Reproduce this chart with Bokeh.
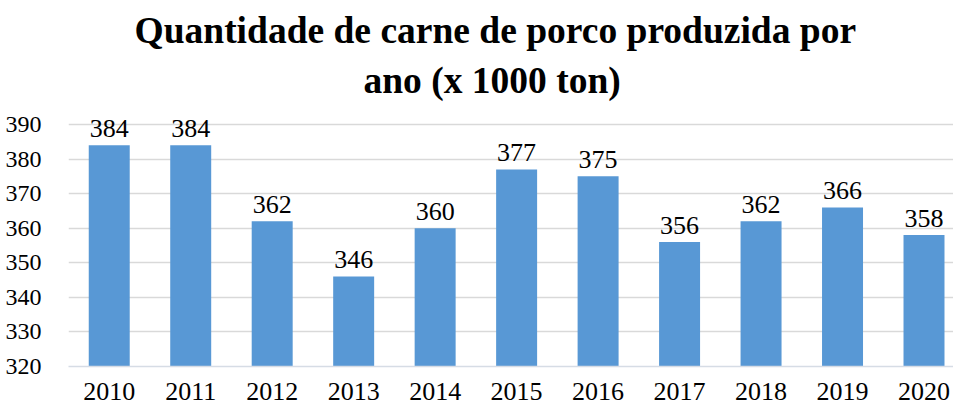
from bokeh.plotting import figure
from bokeh.models import ColumnDataSource, FixedTicker, Title, Range1d
from bokeh.core.properties import value
from bokeh.embed import file_html
from bokeh.resources import INLINE

years = ["2010", "2011", "2012", "2013", "2014", "2015", "2016", "2017", "2018", "2019", "2020"]
production = [384, 384, 362, 346, 360, 377, 375, 356, 362, 366, 358]
y_ticks = [320, 330, 340, 350, 360, 370, 380, 390]
title_line1 = "Quantidade de carne de porco produzida por"
title_line2 = "ano (x 1000 ton)"

FONT = "Liberation Serif"
idx = list(range(len(years)))
src = ColumnDataSource(dict(x=idx, top=production, label=[str(v) for v in production]))

p = figure(width=953, height=407, output_backend="svg", toolbar_location=None,
           x_range=Range1d(-0.5, 10.362), y_range=Range1d(320, 394.9),
           min_border_left=68, min_border_right=0, min_border_top=107, min_border_bottom=41)
p.outline_line_color = None

p.vbar(x="x", top="top", bottom=320, width=0.503, source=src,
       fill_color="#5898d5", line_color=None)

p.text(x="x", y="top", text="label", source=src, text_align="center",
       text_baseline="alphabetic", y_offset=-17,
       text_font=value(FONT), text_font_size="26px", text_color="#000000")

p.xgrid.visible = False
p.ygrid.ticker = FixedTicker(ticks=y_ticks[1:])
p.ygrid.grid_line_color = "#d9d9d9"
p.ygrid.grid_line_width = 1.5

p.yaxis.ticker = FixedTicker(ticks=y_ticks)
p.yaxis.axis_line_color = None
p.yaxis.major_tick_line_color = None
p.yaxis.minor_tick_line_color = None
p.yaxis.major_label_standoff = 21
p.yaxis.major_label_text_font = FONT
p.yaxis.major_label_text_font_size = "24px"
p.yaxis.major_label_text_color = "#000000"

p.xaxis.ticker = FixedTicker(ticks=idx)
p.xaxis.major_label_overrides = {i: y for i, y in zip(idx, years)}
p.xaxis.axis_line_color = "#d6dce5"
p.xaxis.axis_line_width = 1.5
p.xaxis.major_tick_line_color = None
p.xaxis.minor_tick_line_color = None
p.xaxis.major_label_standoff = 10
p.xaxis.major_label_text_font = FONT
p.xaxis.major_label_text_font_size = "26px"
p.xaxis.major_label_text_color = "#000000"

p.add_layout(Title(text=title_line2, align="left", offset=295, text_font=FONT,
                   text_font_size="37.5px", text_font_style="bold",
                   text_color="#000000", standoff=13), "above")
p.add_layout(Title(text=title_line1, align="left", offset=66, text_font=FONT,
                   text_font_size="37.5px", text_font_style="bold",
                   text_color="#000000", standoff=1), "above")

open("out.html", "w").write(file_html(p, INLINE))
